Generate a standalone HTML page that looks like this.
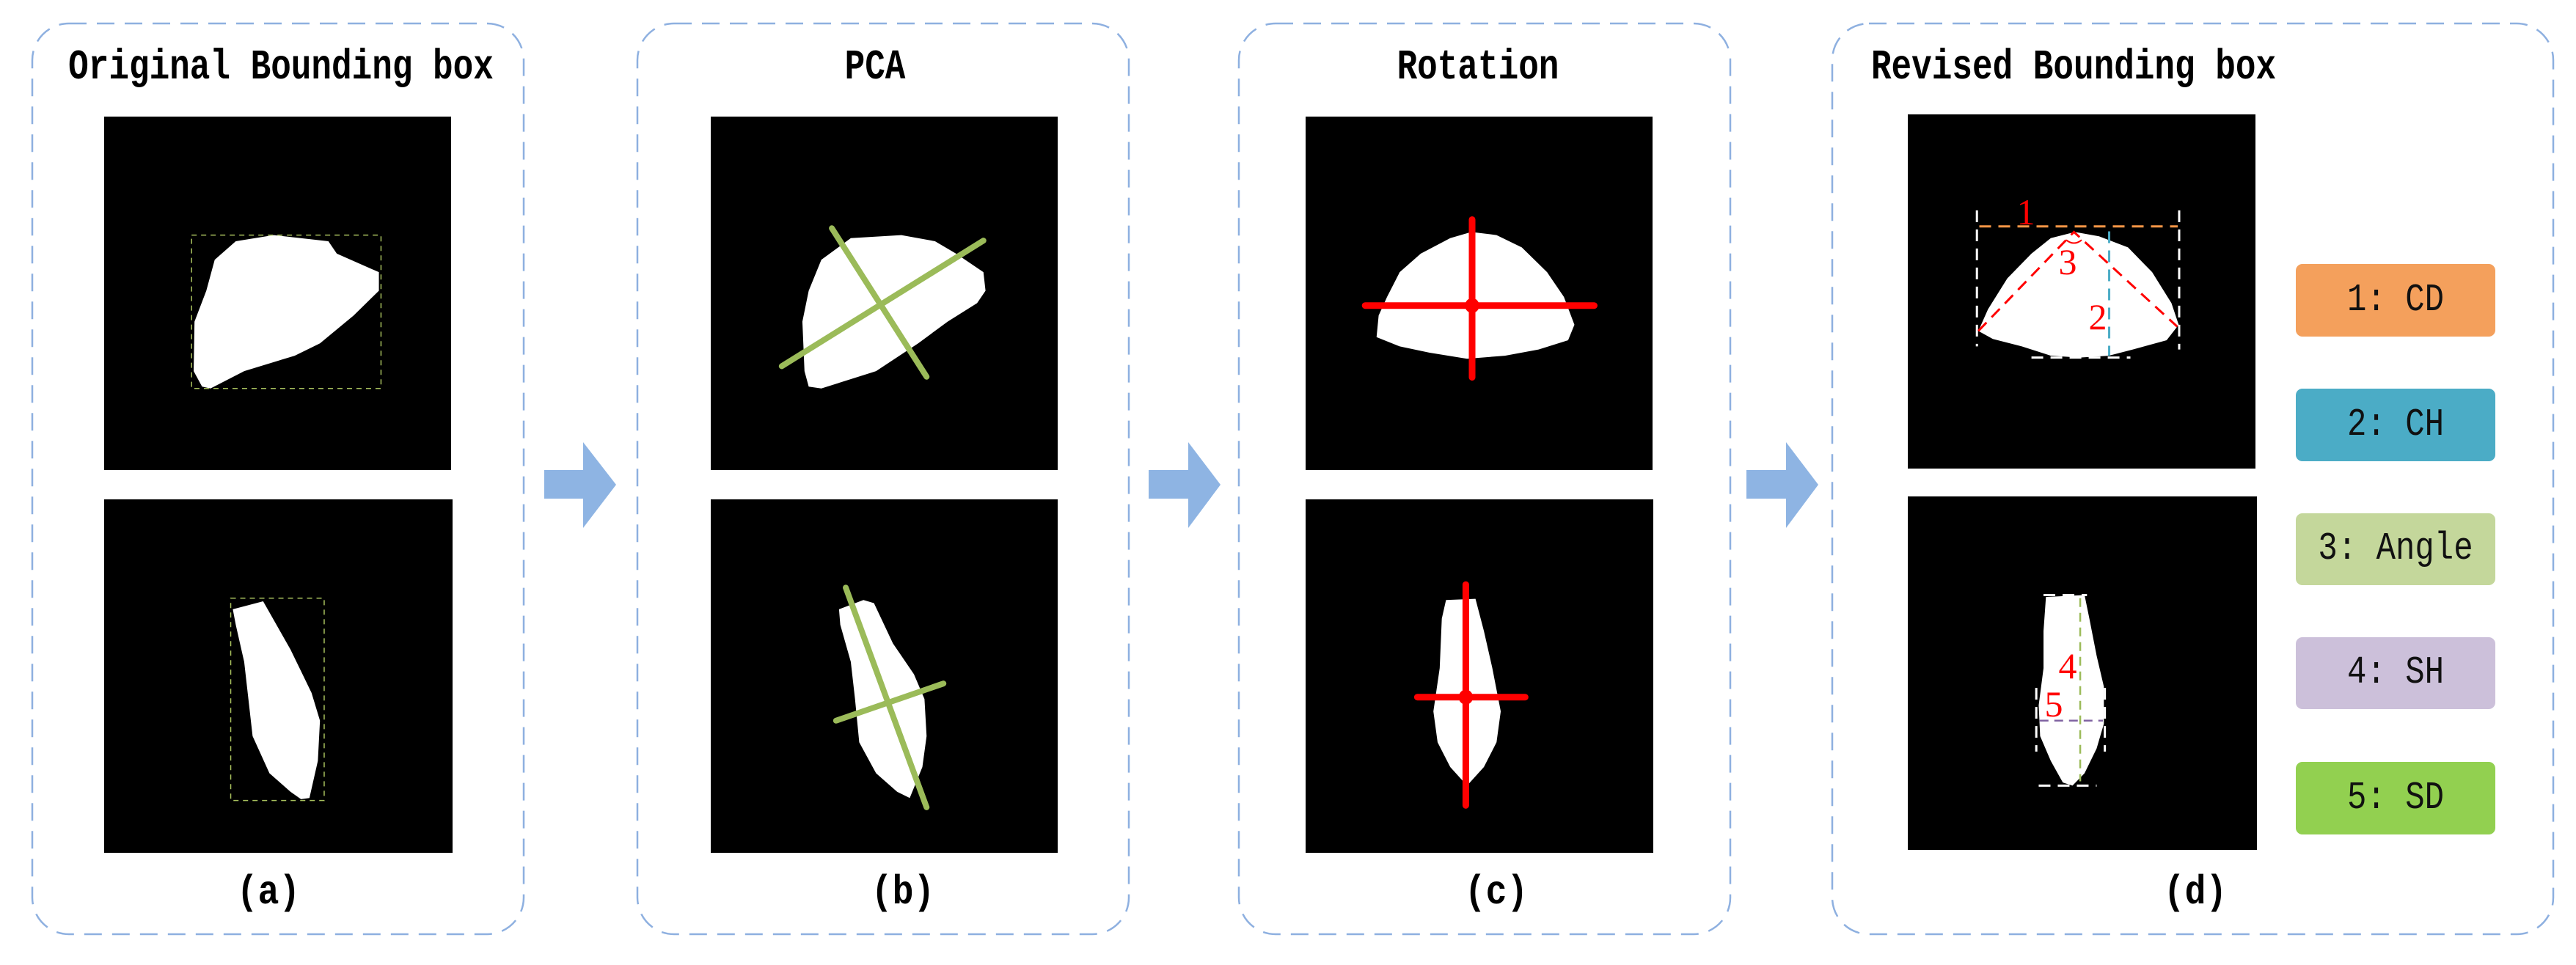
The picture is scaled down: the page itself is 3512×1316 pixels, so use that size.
<!DOCTYPE html>
<html><head><meta charset="utf-8"><style>
html,body{margin:0;padding:0;background:#fff;}
body{width:3512px;height:1316px;position:relative;overflow:hidden;}
.t{position:absolute;font-family:"Liberation Mono",monospace;font-weight:bold;font-size:46px;color:#000;white-space:pre;line-height:1;transform:translate(-50%,-50%) scaleY(1.25);}
.lab{position:absolute;font-family:"Liberation Mono",monospace;font-weight:bold;font-size:48px;color:#000;line-height:1;transform:translate(-50%,-50%) scaleY(1.15);}
.leg{position:absolute;left:3130px;width:272px;border-radius:9px;font-family:"Liberation Mono",monospace;font-size:44px;color:#111;display:flex;align-items:center;justify-content:center;white-space:pre;}
.leg span{display:inline-block;transform:scaleY(1.2);}
.rn{position:absolute;font-family:"Liberation Serif",serif;font-size:50px;color:#f00;line-height:1;transform:translate(-50%,-50%);}
</style></head><body>
<svg width="3512" height="1316" style="position:absolute;left:0;top:0">
<g fill="none" stroke="#8EB0E0" stroke-width="2.5" stroke-dasharray="24 14">
<rect x="44" y="32" width="670" height="1242" rx="50"/>
<rect x="869" y="32" width="670" height="1242" rx="50"/>
<rect x="1689" y="32" width="670" height="1242" rx="50"/>
<rect x="2498" y="32" width="983" height="1242" rx="50"/>
</g>
<g fill="#8EB4E3">
<polygon points="742,641 795,641 795,603 840,661 795,720 795,680 742,680"/>
<polygon points="1566,641 1620,641 1620,603 1664,661 1620,720 1620,680 1566,680"/>
<polygon points="2381,641 2435,641 2435,603 2479,661 2435,720 2435,680 2381,680"/>
</g>
<g fill="#000">
<rect x="142" y="159" width="473" height="482"/>
<rect x="142" y="681" width="475" height="482"/>
<rect x="969" y="159" width="473" height="482"/>
<rect x="969" y="681" width="473" height="482"/>
<rect x="1780" y="159" width="473" height="482"/>
<rect x="1780" y="681" width="474" height="482"/>
<rect x="2601" y="156" width="474" height="483"/>
<rect x="2601" y="677" width="476" height="482"/>
</g>
<!-- panel a -->
<svg x="0" y="0" width="900" height="1316" viewBox="0 0 1568 1560" preserveAspectRatio="none">
<polygon fill="#fff" points="460,600 462,520 490,470 510,420 560,390 650,380 780,390 800,410 900,440 900,470 840,510 760,555 700,575 580,600 500,628 480,625"/>
<rect x="455" y="380" width="450" height="248" fill="none" stroke="#A9C25E" stroke-width="1.5" stroke-dasharray="7 6" vector-effect="non-scaling-stroke"/>
<polygon fill="#fff" points="553,985 625,972 640,990 690,1050 715,1085 740,1120 760,1165 755,1230 735,1290 715,1292 690,1280 640,1250 600,1190 590,1130 580,1070 560,1010"/>
<rect x="548" y="967" width="222" height="327" fill="none" stroke="#A9C25E" stroke-width="1.5" stroke-dasharray="7 6" vector-effect="non-scaling-stroke"/>
</svg>
<!-- panel b -->
<svg x="850" y="0" width="900" height="1316" viewBox="0 0 1568 1560" preserveAspectRatio="none">
<polygon fill="#fff" points="430,600 425,520 440,470 470,420 540,385 660,380 740,390 790,410 855,440 860,470 840,490 770,520 700,555 600,600 470,628 440,625"/>
<g stroke="#9BBB59" stroke-width="8" stroke-linecap="round">
<line x1="376" y1="592" x2="855" y2="389" vector-effect="non-scaling-stroke"/>
<line x1="495" y1="369" x2="720" y2="609" vector-effect="non-scaling-stroke"/>
</g>
<polygon fill="#fff" points="512,985 570,970 595,975 640,1040 690,1090 715,1130 720,1190 710,1240 680,1290 650,1280 600,1250 560,1200 550,1130 540,1070 515,1010"/>
<g stroke="#9BBB59" stroke-width="8" stroke-linecap="round">
<line x1="528" y1="950" x2="720" y2="1305" vector-effect="non-scaling-stroke"/>
<line x1="505" y1="1165" x2="760" y2="1105" vector-effect="non-scaling-stroke"/>
</g>
</svg>
<!-- panel c -->
<svg x="1650" y="0" width="900" height="1316" viewBox="0 0 1568 1560" preserveAspectRatio="none">
<polygon fill="#fff" points="395,545 400,510 420,480 450,440 500,410 570,385 620,375 680,380 740,400 800,440 840,480 865,525 850,550 780,565 700,575 610,580 520,570 450,560"/>
<g stroke="#f00" stroke-width="9" stroke-linecap="round">
<line x1="368" y1="494" x2="912" y2="494" vector-effect="non-scaling-stroke"/>
<line x1="622" y1="355" x2="622" y2="610" vector-effect="non-scaling-stroke"/>
</g>
<ellipse cx="622" cy="494" rx="17" ry="12" fill="#f00"/>
<polygon fill="#fff" points="560,970 630,968 650,1020 670,1080 690,1150 680,1200 650,1240 610,1270 570,1240 540,1200 530,1150 545,1080 550,1000"/>
<g stroke="#f00" stroke-width="9" stroke-linecap="round">
<line x1="607" y1="945" x2="607" y2="1302" vector-effect="non-scaling-stroke"/>
<line x1="492" y1="1127" x2="748" y2="1127" vector-effect="non-scaling-stroke"/>
</g>
<ellipse cx="607" cy="1127" rx="17" ry="12" fill="#f00"/>
</svg>
<!-- panel d -->
<svg x="2480" y="0" width="1032" height="1316" viewBox="0 0 1568 1560" preserveAspectRatio="none">
<polygon fill="#fff" points="330,535 350,500 390,450 440,410 480,385 530,375 580,382 640,400 690,440 730,490 745,525 720,550 650,565 600,575 540,578 480,575 420,560 360,548"/>
<g stroke="#fff" stroke-width="3" stroke-dasharray="16 10" fill="none">
<line x1="327" y1="340" x2="327" y2="560" vector-effect="non-scaling-stroke"/>
<line x1="746" y1="340" x2="746" y2="565" vector-effect="non-scaling-stroke"/>
<line x1="440" y1="578" x2="645" y2="578" vector-effect="non-scaling-stroke"/>
<line x1="465" y1="962" x2="555" y2="962" vector-effect="non-scaling-stroke"/>
<line x1="455" y1="1270" x2="575" y2="1270" vector-effect="non-scaling-stroke"/>
<line x1="450" y1="1112" x2="450" y2="1215" vector-effect="non-scaling-stroke"/>
<line x1="592" y1="1112" x2="592" y2="1215" vector-effect="non-scaling-stroke"/>
</g>
<line x1="332" y1="366" x2="743" y2="366" stroke="#F79646" stroke-width="3" stroke-dasharray="16 10" vector-effect="non-scaling-stroke"/>
<line x1="601" y1="374" x2="601" y2="575" stroke="#4BACC6" stroke-width="3" stroke-dasharray="16 10" vector-effect="non-scaling-stroke"/>
<polyline points="330,535 528,375 742,528" fill="none" stroke="#f00" stroke-width="3" stroke-dasharray="16 10" vector-effect="non-scaling-stroke"/>
<path d="M512,388 Q528,398 544,388" fill="none" stroke="#f00" stroke-width="2" vector-effect="non-scaling-stroke"/>
<polygon fill="#fff" points="470,965 550,962 560,1000 575,1060 590,1110 590,1170 575,1210 550,1250 525,1270 505,1265 480,1230 458,1190 455,1140 465,1080 465,1020"/>
<line x1="541" y1="967" x2="541" y2="1263" stroke="#9BBB59" stroke-width="2.5" stroke-dasharray="12 8" vector-effect="non-scaling-stroke"/>
<line x1="457" y1="1165" x2="588" y2="1165" stroke="#8064A2" stroke-width="2.5" stroke-dasharray="12 8" vector-effect="non-scaling-stroke"/>
</svg>
</svg>

<div class="t" style="left:383px;top:92px">Original Bounding box</div>
<div class="t" style="left:1193px;top:92px">PCA</div>
<div class="t" style="left:2015px;top:92px">Rotation</div>
<div class="t" style="left:2827px;top:92px">Revised Bounding box</div>

<div class="lab" style="left:366px;top:1218px">(a)</div>
<div class="lab" style="left:1231px;top:1218px">(b)</div>
<div class="lab" style="left:2040px;top:1218px">(c)</div>
<div class="lab" style="left:2993px;top:1218px">(d)</div>

<div class="rn" style="left:2762px;top:289px">1</div>
<div class="rn" style="left:2819px;top:357px">3</div>
<div class="rn" style="left:2860px;top:432px">2</div>
<div class="rn" style="left:2819px;top:908px">4</div>
<div class="rn" style="left:2800px;top:960px">5</div>

<div class="leg" style="top:360px;height:99px;background:#F4A05C"><span>1: CD</span></div>
<div class="leg" style="top:530px;height:99px;background:#4BACC6"><span>2: CH</span></div>
<div class="leg" style="top:700px;height:98px;background:#C4D79B"><span>3: Angle</span></div>
<div class="leg" style="top:869px;height:98px;background:#CCC0DA"><span>4: SH</span></div>
<div class="leg" style="top:1039px;height:99px;background:#92D050"><span>5: SD</span></div>
</body></html>
